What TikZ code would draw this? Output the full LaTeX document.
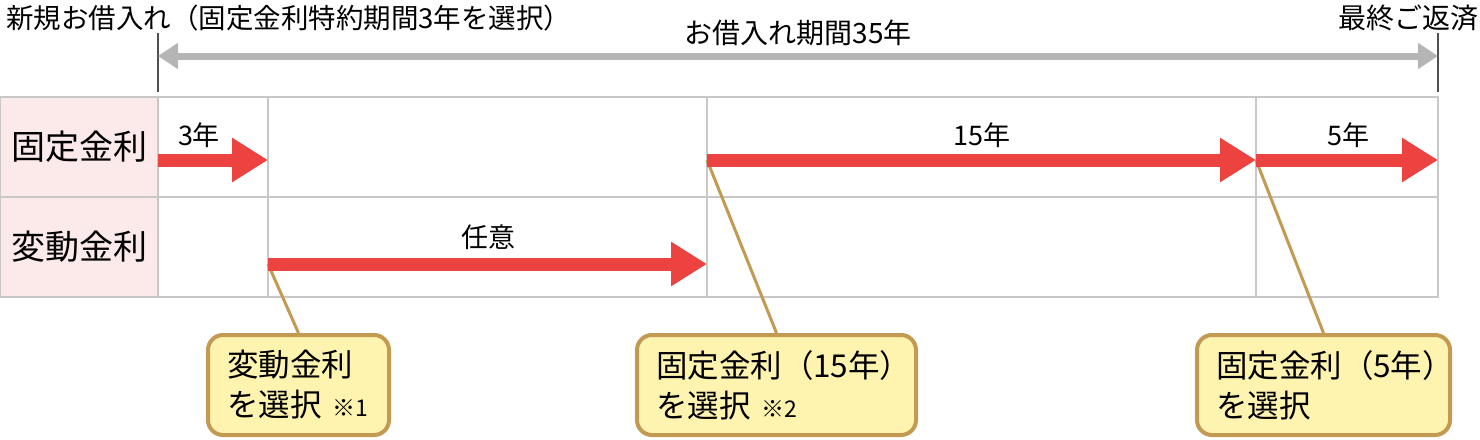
\documentclass[tikz,border=0pt]{standalone}
\usepackage{fontspec}
\setmainfont{Noto Sans CJK JP}
\usetikzlibrary{arrows.meta}
\definecolor{redA}{HTML}{EC4340}
\definecolor{grayA}{HTML}{B5B5B5}
\definecolor{gridC}{HTML}{C8C8C8}
\definecolor{pinkC}{HTML}{FCEAEB}
\definecolor{tanC}{HTML}{C39A52}
\definecolor{yellowC}{HTML}{FFF3B0}
\definecolor{tickC}{HTML}{505050}
\newcommand{\smallnote}[1]{{\fontsize{23}{23}\selectfont #1}}
\begin{document}
\begin{tikzpicture}[x=1pt,y=-1pt,
  cell/.style={draw=gridC,line width=2pt,rectangle,inner sep=0pt,minimum height=100pt},
  rowlab/.style={cell,fill=pinkC,minimum width=158pt,font=\fontsize{34}{40}\selectfont},
  toplab/.style={inner sep=0pt,font=\fontsize{28}{32}\selectfont},
  arrlab/.style={inner sep=0pt,font=\fontsize{27}{30}\selectfont},
  bigarrow/.style={redA,line width=13pt,-{Triangle[length=36pt,width=42pt]}},
  span/.style={grayA,line width=7pt,{Triangle[length=20pt,width=25pt]}-{Triangle[length=20pt,width=25pt]}},
  tick/.style={tickC,line width=1.5pt},
  conn/.style={tanC,line width=3pt},
  callout/.style={draw=tanC,fill=yellowC,line width=4pt,rounded corners=15pt,minimum height=100pt,
    inner xsep=19pt,inner ysep=0pt,align=left,font=\fontsize{31.5}{40}\selectfont}
]
\useasboundingbox (0,0) rectangle (1480,439);
% grid
\node[rowlab] (l1) at (79,147) {固定金利};
\node[rowlab] (l2) at (79,247) {変動金利};
\node[cell,minimum width=110pt] (a1) at (213,147) {};
\node[cell,minimum width=439pt] (b1) at (487.5,147) {};
\node[cell,minimum width=549pt] (c1) at (981.5,147) {};
\node[cell,minimum width=182pt] (d1) at (1347,147) {};
\node[cell,minimum width=110pt] (a2) at (213,247) {};
\node[cell,minimum width=439pt] (b2) at (487.5,247) {};
\node[cell,minimum width=549pt] (c2) at (981.5,247) {};
\node[cell,minimum width=182pt] (d2) at (1347,247) {};
% top labels
\node[toplab,anchor=west,font=\fontsize{27.5}{32}\selectfont] (tstart) at (6,18) {新規お借入れ（固定金利特約期間3年を選択）};
\node[toplab,anchor=east] (tend) at (1479,18) {最終ご返済};
\node[toplab] (tspan) at (798,33) {お借入れ期間35年};
\coordinate (k1t) at (158,33);
\coordinate (k1b) at (158,92);
\coordinate (k2t) at (1438,33);
\coordinate (k2b) at (1438,92);
\draw[tick] (k1t) -- (k1b);
\draw[tick] (k2t) -- (k2b);
\coordinate (g1) at (158,56);
\coordinate (g2) at (1438,56);
\draw[span] (g1) -- (g2);
% arrow points
\coordinate (p0) at (158,160);
\coordinate (p1) at (268,160);
\coordinate (p2) at (707,160);
\coordinate (p3) at (1256,160);
\coordinate (p4) at (1438,160);
\coordinate (q1) at (268,264);
\coordinate (q2) at (707,264);
% callouts
\node[callout,minimum width=181pt,text width=143pt] (co1) at (298.5,385) {変動金利\\を選択 \smallnote{※1}};
\node[callout,minimum width=279pt,text width=241pt] (co2) at (776.5,385) {固定金利（15年）\\を選択 \smallnote{※2}};
\node[callout,minimum width=253pt,text width=215pt] (co3) at (1323.5,385) {固定金利（5年）\\を選択};
\draw[conn] (q1) -- (co1.north);
\draw[conn] (p2) -- (co2.north);
\draw[conn] (p3) -- (co3.north);
% red arrows
\draw[bigarrow] (p0) -- (p1);
\draw[bigarrow] (p2) -- (p3);
\draw[bigarrow] (p3) -- (p4);
\draw[bigarrow] (q1) -- (q2);
% arrow labels
\node[arrlab] (y3) at (199,135) {3年};
\node[arrlab] (y15) at (982,135) {15年};
\node[arrlab] (y5) at (1348,135) {5年};
\node[arrlab] (yn) at (488,237) {任意};
\end{tikzpicture}
\end{document}
